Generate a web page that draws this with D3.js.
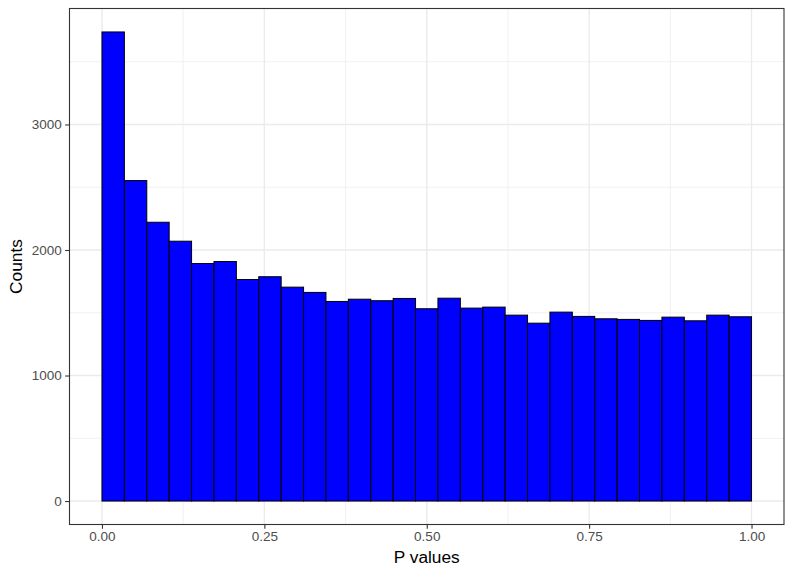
<!DOCTYPE html>
<html>
<head>
<meta charset="utf-8">
<script src="https://cdn.jsdelivr.net/npm/d3@7"></script>
<style>
  html, body { margin: 0; padding: 0; background: #fff; }
  svg { display: block; font-family: "Liberation Sans", Arial, Helvetica, sans-serif; }
</style>
</head>
<body>
<svg id="chart" width="793" height="577"></svg>
<script>
// Histogram bin counts (29 equal bins over [0, 1])
const binCounts = [3737, 2553, 2221, 2070, 1892, 1908, 1765, 1787, 1704, 1662,
                   1590, 1608, 1596, 1614, 1532, 1616, 1537, 1545, 1481, 1417,
                   1505, 1471, 1452, 1447, 1439, 1465, 1436, 1481, 1468];
const xTicks = [0, 0.25, 0.5, 0.75, 1];
const xTickLabels = ["0.00", "0.25", "0.50", "0.75", "1.00"];
const xMinor = [0.125, 0.375, 0.625, 0.875];
const yTicks = [0, 1000, 2000, 3000];
const yMinor = [500, 1500, 2500, 3500];
const xTitle = "P values";
const yTitle = "Counts";

const nb = binCounts.length;
const bins = binCounts.map((c, i) => ({ x0: i / nb, x1: (i + 1) / nb, count: c }));

const svg = d3.select("#chart");
const panel = { left: 69.5, right: 784, top: 8.5, bottom: 524.5 };

const maxC = d3.max(binCounts);
const x = d3.scaleLinear().domain([-0.05, 1.05]).range([panel.left, panel.right]);
const y = d3.scaleLinear().domain([-0.05 * maxC, 1.05 * maxC]).range([panel.bottom, panel.top]);

// panel background
svg.append("rect")
  .attr("x", panel.left).attr("y", panel.top)
  .attr("width", panel.right - panel.left).attr("height", panel.bottom - panel.top)
  .attr("fill", "#fff");

const grid = svg.append("g");
// minor grid
grid.selectAll(".vminor").data(xMinor).join("line")
  .attr("x1", d => x(d)).attr("x2", d => x(d))
  .attr("y1", panel.top).attr("y2", panel.bottom)
  .attr("stroke", "#EBEBEB").attr("stroke-width", 0.7);
grid.selectAll(".hminor").data(yMinor).join("line")
  .attr("y1", d => y(d)).attr("y2", d => y(d))
  .attr("x1", panel.left).attr("x2", panel.right)
  .attr("stroke", "#EBEBEB").attr("stroke-width", 0.7);
// major grid
grid.selectAll(".vmajor").data(xTicks).join("line")
  .attr("x1", d => x(d)).attr("x2", d => x(d))
  .attr("y1", panel.top).attr("y2", panel.bottom)
  .attr("stroke", "#EBEBEB").attr("stroke-width", 1.4);
grid.selectAll(".hmajor").data(yTicks).join("line")
  .attr("y1", d => y(d)).attr("y2", d => y(d))
  .attr("x1", panel.left).attr("x2", panel.right)
  .attr("stroke", "#EBEBEB").attr("stroke-width", 1.4);

// bars
svg.append("g").selectAll("rect").data(bins).join("rect")
  .attr("x", d => x(d.x0))
  .attr("width", d => x(d.x1) - x(d.x0))
  .attr("y", d => y(d.count))
  .attr("height", d => y(0) - y(d.count))
  .attr("fill", "#0000FF")
  .attr("stroke", "#000")
  .attr("stroke-width", 1);

// panel border
svg.append("rect")
  .attr("x", panel.left).attr("y", panel.top)
  .attr("width", panel.right - panel.left).attr("height", panel.bottom - panel.top)
  .attr("fill", "none").attr("stroke", "#333333").attr("stroke-width", 1.1);

// axes
const xAxis = d3.axisBottom(x).tickValues(xTicks)
  .tickFormat((d, i) => xTickLabels[i]).tickSize(4.3).tickPadding(3);
const gx = svg.append("g").attr("transform", `translate(0,${panel.bottom})`).call(xAxis);
gx.select(".domain").remove();
gx.selectAll(".tick line").attr("stroke", "#333333").attr("stroke-width", 1.1);
gx.selectAll(".tick text").attr("fill", "#4D4D4D").style("font-size", "13.5px")
  .attr("font-family", "Liberation Sans, Arial, sans-serif");

const yAxis = d3.axisLeft(y).tickValues(yTicks).tickFormat(d3.format("d"))
  .tickSize(4.3).tickPadding(3.5);
const gy = svg.append("g").attr("transform", `translate(${panel.left},0)`).call(yAxis);
gy.select(".domain").remove();
gy.selectAll(".tick line").attr("stroke", "#333333").attr("stroke-width", 1.1);
gy.selectAll(".tick text").attr("fill", "#4D4D4D").style("font-size", "13.5px")
  .attr("font-family", "Liberation Sans, Arial, sans-serif");

// titles
svg.append("text")
  .attr("x", (panel.left + panel.right) / 2).attr("y", 563)
  .attr("text-anchor", "middle").attr("fill", "#000")
  .style("font-size", "17.3px").text(xTitle);
svg.append("text")
  .attr("transform", `translate(22,${(panel.top + panel.bottom) / 2}) rotate(-90)`)
  .attr("text-anchor", "middle").attr("fill", "#000")
  .style("font-size", "17.3px").text(yTitle);
</script>
</body>
</html>
